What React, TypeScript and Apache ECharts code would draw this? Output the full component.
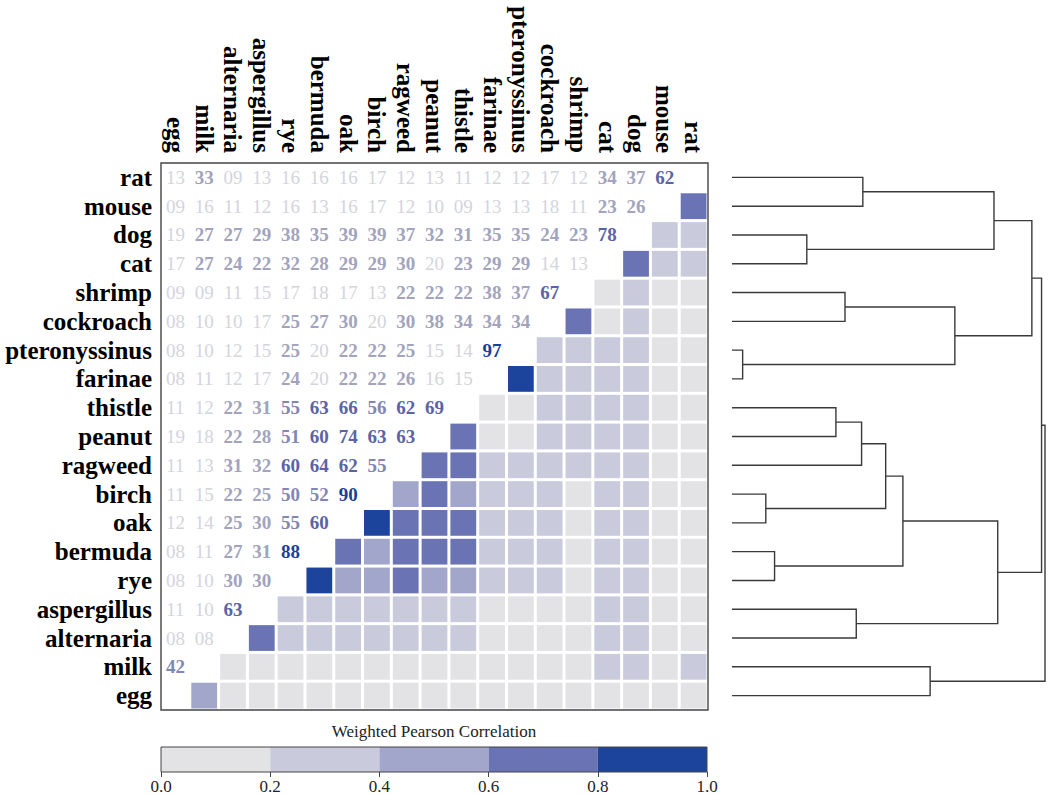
import React, { useEffect, useRef } from "react";
import * as echarts from "echarts";

// Allergens (column order left→right, row order bottom→top)
const allergens = [
  "egg", "milk", "alternaria", "aspergillus", "rye", "bermuda", "oak", "birch",
  "ragweed", "peanut", "thistle", "farinae", "pteronyssinus", "cockroach",
  "shrimp", "cat", "dog", "mouse", "rat",
];

// Weighted Pearson correlation ×100; row k holds its correlation with allergens[0..k-1]
const corrEgg: number[] = [];
const corrMilk = [42];
const corrAlternaria = [8, 8];
const corrAspergillus = [11, 10, 63];
const corrRye = [8, 10, 30, 30];
const corrBermuda = [8, 11, 27, 31, 88];
const corrOak = [12, 14, 25, 30, 55, 60];
const corrBirch = [11, 15, 22, 25, 50, 52, 90];
const corrRagweed = [11, 13, 31, 32, 60, 64, 62, 55];
const corrPeanut = [19, 18, 22, 28, 51, 60, 74, 63, 63];
const corrThistle = [11, 12, 22, 31, 55, 63, 66, 56, 62, 69];
const corrFarinae = [8, 11, 12, 17, 24, 20, 22, 22, 26, 16, 15];
const corrPteronyssinus = [8, 10, 12, 15, 25, 20, 22, 22, 25, 15, 14, 97];
const corrCockroach = [8, 10, 10, 17, 25, 27, 30, 20, 30, 38, 34, 34, 34];
const corrShrimp = [9, 9, 11, 15, 17, 18, 17, 13, 22, 22, 22, 38, 37, 67];
const corrCat = [17, 27, 24, 22, 32, 28, 29, 29, 30, 20, 23, 29, 29, 14, 13];
const corrDog = [19, 27, 27, 29, 38, 35, 39, 39, 37, 32, 31, 35, 35, 24, 23, 78];
const corrMouse = [9, 16, 11, 12, 16, 13, 16, 17, 12, 10, 9, 13, 13, 18, 11, 23, 26];
const corrRat = [13, 33, 9, 13, 16, 16, 16, 17, 12, 13, 11, 12, 12, 17, 12, 34, 37, 62];

const corrRows = [
  corrEgg, corrMilk, corrAlternaria, corrAspergillus, corrRye, corrBermuda, corrOak,
  corrBirch, corrRagweed, corrPeanut, corrThistle, corrFarinae, corrPteronyssinus,
  corrCockroach, corrShrimp, corrCat, corrDog, corrMouse, corrRat,
];

// Dendrogram merges: [node, childA, childB, height (0..1)]
const dendroMerges: [string, string, string, number][] = [
  ["n1", "rat", "mouse", 0.418],
  ["n2", "dog", "cat", 0.239],
  ["n3", "n1", "n2", 0.837],
  ["n4", "shrimp", "cockroach", 0.361],
  ["n5", "pteronyssinus", "farinae", 0.034],
  ["n6", "n4", "n5", 0.712],
  ["n7", "n3", "n6", 0.958],
  ["n8", "thistle", "peanut", 0.332],
  ["n9", "n8", "ragweed", 0.414],
  ["n10", "birch", "oak", 0.108],
  ["n11", "n9", "n10", 0.491],
  ["n12", "bermuda", "rye", 0.136],
  ["n13", "n11", "n12", 0.546],
  ["n14", "aspergillus", "alternaria", 0.397],
  ["n15", "n13", "n14", 0.849],
  ["n16", "n7", "n15", 0.989],
  ["n17", "milk", "egg", 0.633],
  ["n18", "n16", "n17", 1.0],
];

// Colour bar
const barEdges = [0, 0.2, 0.4, 0.6, 0.8, 1.0];
const barColors = ["#e3e3e6", "#c9cbdc", "#a3a6cb", "#6a73b3", "#1d449c"];
const textColors = ["#d4d4dc", "#a2a3bd", "#8286b4", "#5a63a7", "#1b3f95"];

const SERIF = "Liberation Serif";

function cellBin(v: number) {
  return Math.min(4, Math.floor(v / 20));
}
function textBin(v: number) {
  return v <= 20 ? 0 : Math.min(4, Math.floor(v / 20));
}

export default function App() {
  const ref = useRef<HTMLDivElement>(null);

  useEffect(() => {
    if (!ref.current) return;
    const chart = echarts.init(ref.current, undefined, { renderer: "svg" });

    const n = allergens.length;
    const heatData: number[][] = [];
    for (let r = 0; r < n; r++) {
      for (let c = 0; c < n; c++) {
        if (c === r) continue;
        const v = c > r ? corrRows[c][r] : corrRows[r][c];
        heatData.push([c, r, v]);
      }
    }

    const nodePos: Record<string, { h: number; y: number }> = {};
    allergens.forEach((a, i) => (nodePos[a] = { h: 0, y: i }));
    const dendroData = dendroMerges.map(([id, a, b, h]) => {
      const A = nodePos[a];
      const B = nodePos[b];
      nodePos[id] = { h, y: (A.y + B.y) / 2 };
      return [A.h, A.y, B.h, B.y, h];
    });

    const barData = barColors.map((_, i) => [barEdges[i], barEdges[i + 1], i]);

    const option: any = {
      animation: false,
      backgroundColor: "#ffffff",
      textStyle: { fontFamily: SERIF },
      grid: [
        {
          left: 161, top: 163, width: 547, height: 547,
          show: true, borderColor: "#444", borderWidth: 1.4, backgroundColor: "#fff",
        },
        { left: 732, top: 163, width: 313, height: 547 },
        { left: 161, top: 747, width: 546, height: 25 },
      ],
      xAxis: [
        {
          type: "category", gridIndex: 0, data: allergens, position: "top",
          axisLine: { show: false }, axisTick: { show: false }, splitLine: { show: false },
          axisLabel: {
            rotate: 90, margin: 10, interval: 0,
            fontFamily: SERIF, fontWeight: "bold", fontSize: 25, color: "#000",
          },
        },
        { type: "value", gridIndex: 1, min: 0, max: 1, show: false },
        {
          type: "value", gridIndex: 2, min: 0, max: 1, interval: 0.2, position: "bottom",
          axisLine: { show: false }, splitLine: { show: false },
          axisTick: { show: true, length: 5, lineStyle: { color: "#444", width: 1 } },
          axisLabel: {
            margin: 6, fontFamily: SERIF, fontSize: 17, color: "#222",
            formatter: (v: number) => v.toFixed(1),
          },
        },
        {
          type: "value", gridIndex: 2, min: 0, max: 1, position: "top",
          axisLine: { show: false }, axisTick: { show: false }, axisLabel: { show: false },
          splitLine: { show: false },
          name: "Weighted Pearson Correlation", nameLocation: "middle", nameGap: 7,
          nameTextStyle: { fontFamily: SERIF, fontSize: 17, color: "#222" },
        },
      ],
      yAxis: [
        {
          type: "category", gridIndex: 0, data: allergens,
          axisLine: { show: false }, axisTick: { show: false }, splitLine: { show: false },
          axisLabel: {
            margin: 9, interval: 0,
            fontFamily: SERIF, fontWeight: "bold", fontSize: 25, color: "#000",
          },
        },
        { type: "value", gridIndex: 1, min: -0.5, max: n - 0.5, show: false },
        { type: "value", gridIndex: 2, min: 0, max: 1, show: false },
      ],
      series: [
        {
          type: "custom",
          xAxisIndex: 0, yAxisIndex: 0,
          data: heatData,
          renderItem: (params: any, api: any) => {
            const c = api.value(0);
            const r = api.value(1);
            const v = api.value(2);
            const p = api.coord([c, r]);
            const s = api.size([1, 1]);
            if (c > r) {
              return {
                type: "rect",
                shape: { x: p[0] - s[0] / 2 + 1.5, y: p[1] - s[1] / 2 + 1.5, width: s[0] - 3, height: s[1] - 3 },
                style: { fill: barColors[cellBin(v)] },
              };
            }
            const tb = textBin(v);
            return {
              type: "text",
              x: p[0],
              y: p[1],
              style: {
                text: String(v).padStart(2, "0"),
                fill: textColors[tb],
                font: `${tb === 0 ? "normal" : "bold"} 19px ${SERIF}`,
                align: "center",
                verticalAlign: "middle",
              },
            };
          },
        },
        {
          type: "custom",
          xAxisIndex: 1, yAxisIndex: 1,
          data: dendroData,
          renderItem: (params: any, api: any) => {
            const a = api.coord([api.value(0), api.value(1)]);
            const ah = api.coord([api.value(4), api.value(1)]);
            const bh = api.coord([api.value(4), api.value(3)]);
            const b = api.coord([api.value(2), api.value(3)]);
            return {
              type: "polyline",
              shape: { points: [a, ah, bh, b] },
              style: { stroke: "#3a3a3a", lineWidth: 1.4, fill: null },
            };
          },
        },
        {
          type: "custom",
          xAxisIndex: 2, yAxisIndex: 2,
          data: barData,
          renderItem: (params: any, api: any) => {
            const p0 = api.coord([api.value(0), 1]);
            const p1 = api.coord([api.value(1), 0]);
            return {
              type: "rect",
              shape: { x: p0[0], y: p0[1], width: p1[0] - p0[0], height: p1[1] - p0[1] },
              style: { fill: barColors[api.value(2)] },
            };
          },
        },
        {
          type: "custom",
          xAxisIndex: 2, yAxisIndex: 2,
          data: [[barEdges[0], barEdges[barEdges.length - 1]]],
          z: 3,
          renderItem: (params: any, api: any) => {
            const p0 = api.coord([api.value(0), 1]);
            const p1 = api.coord([api.value(1), 0]);
            return {
              type: "rect",
              shape: { x: p0[0], y: p0[1], width: p1[0] - p0[0], height: p1[1] - p0[1] },
              style: { fill: null, stroke: "#444", lineWidth: 1 },
            };
          },
        },
      ],
    };

    chart.setOption(option);
    return () => chart.dispose();
  }, []);

  return (
    <div
      ref={ref}
      style={{ position: "fixed", left: 0, top: 0, width: 1050, height: 795, background: "#fff" }}
    />
  );
}
